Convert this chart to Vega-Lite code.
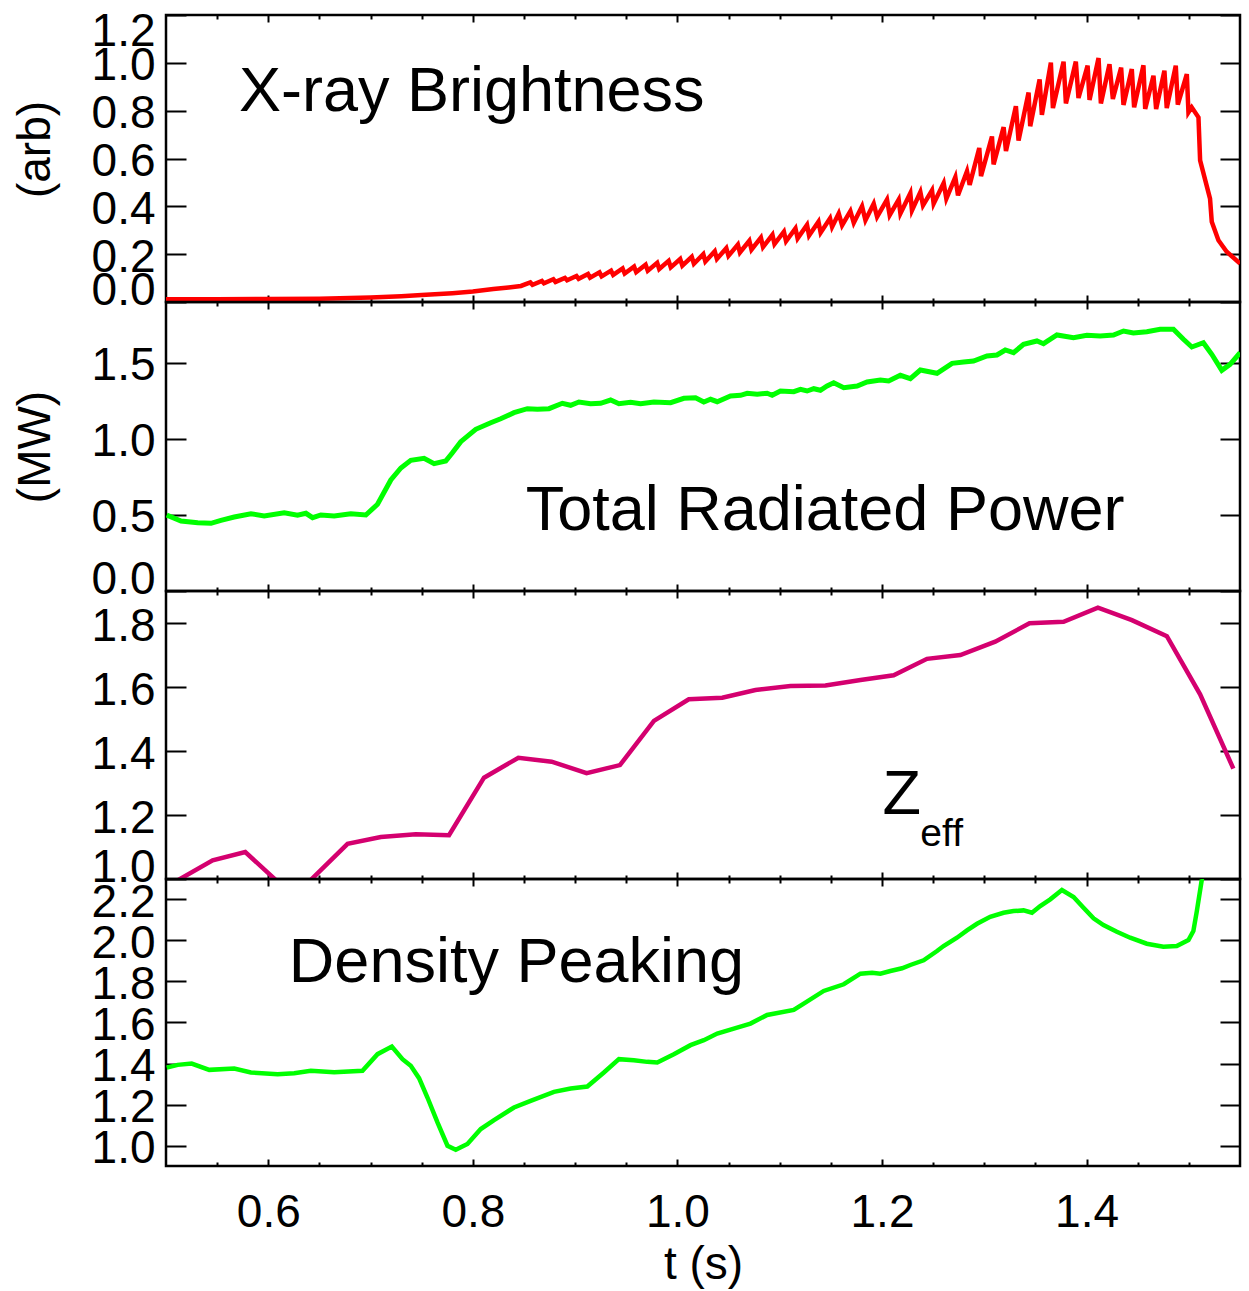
{
  "$schema": "https://vega.github.io/schema/vega-lite/v6.json",
  "background": "white",
  "padding": {"left": 10, "top": 6, "right": 9, "bottom": 0},
  "autosize": {"type": "pad"},
  "spacing": 0,
  "bounds": "flush",
  "config": {
    "view": {"stroke": "black", "strokeWidth": 2.5},
    "axis": {
      "domain": false, "grid": false, "tickColor": "black", "tickWidth": 2,
      "labelColor": "black", "titleColor": "black",
      "labelFont": "Liberation Sans", "titleFont": "Liberation Sans",
      "labelFontSize": 46, "titleFontSize": 46, "titleFontWeight": "normal",
      "labelOverlap": false, "labelBound": false
    },
    "text": {"font": "Liberation Sans"}
  },
  "datasets": {
    "xray": [
      {"t":0.5,"v":0.012},{"t":0.55,"v":0.012},{"t":0.6,"v":0.013},{"t":0.65,"v":0.014},{"t":0.7,"v":0.019},{"t":0.73,"v":0.024},{"t":0.75,"v":0.029},{"t":0.78,"v":0.037},{"t":0.8,"v":0.044},{"t":0.82,"v":0.054},{"t":0.835,"v":0.061},
      {"t":0.8470,"v":0.067},{"t":0.8562,"v":0.082},
      {"t":0.8583,"v":0.072},{"t":0.8675,"v":0.088},
      {"t":0.8695,"v":0.078},{"t":0.8787,"v":0.095},
      {"t":0.8808,"v":0.084},{"t":0.8900,"v":0.101},
      {"t":0.8921,"v":0.091},{"t":0.9013,"v":0.109},
      {"t":0.9034,"v":0.097},{"t":0.9126,"v":0.117},
      {"t":0.9146,"v":0.102},{"t":0.9238,"v":0.124},
      {"t":0.9259,"v":0.107},{"t":0.9351,"v":0.131},
      {"t":0.9372,"v":0.113},{"t":0.9464,"v":0.140},
      {"t":0.9484,"v":0.119},{"t":0.9576,"v":0.148},
      {"t":0.9597,"v":0.125},{"t":0.9689,"v":0.156},
      {"t":0.9710,"v":0.131},{"t":0.9802,"v":0.164},
      {"t":0.9822,"v":0.138},{"t":0.9914,"v":0.172},
      {"t":0.9935,"v":0.145},{"t":1.0027,"v":0.180},
      {"t":1.0048,"v":0.152},{"t":1.0140,"v":0.189},
      {"t":1.0161,"v":0.160},{"t":1.0253,"v":0.200},
      {"t":1.0273,"v":0.169},{"t":1.0365,"v":0.212},
      {"t":1.0386,"v":0.180},{"t":1.0478,"v":0.225},
      {"t":1.0499,"v":0.193},{"t":1.0591,"v":0.240},
      {"t":1.0611,"v":0.207},{"t":1.0703,"v":0.256},
      {"t":1.0724,"v":0.219},{"t":1.0816,"v":0.269},
      {"t":1.0837,"v":0.230},{"t":1.0929,"v":0.281},
      {"t":1.0949,"v":0.242},{"t":1.1041,"v":0.294},
      {"t":1.1062,"v":0.254},{"t":1.1154,"v":0.308},
      {"t":1.1175,"v":0.266},{"t":1.1267,"v":0.322},
      {"t":1.1287,"v":0.278},{"t":1.1379,"v":0.336},
      {"t":1.1400,"v":0.290},{"t":1.1492,"v":0.350},
      {"t":1.1512,"v":0.314},{"t":1.1577,"v":0.370},{"t":1.1610,"v":0.321},{"t":1.1691,"v":0.380},{"t":1.1724,"v":0.331},{"t":1.1805,"v":0.400},{"t":1.1838,"v":0.342},{"t":1.1919,"v":0.411},{"t":1.1952,"v":0.356},{"t":1.2049,"v":0.428},{"t":1.2075,"v":0.363},{"t":1.2163,"v":0.428},{"t":1.2180,"v":0.370},{"t":1.2277,"v":0.455},{"t":1.2293,"v":0.383},{"t":1.2375,"v":0.460},{"t":1.2401,"v":0.404},{"t":1.2489,"v":0.467},{"t":1.2505,"v":0.411},{"t":1.2603,"v":0.497},{"t":1.2629,"v":0.432},{"t":1.2717,"v":0.522},{"t":1.2743,"v":0.446},{"t":1.2831,"v":0.547},{"t":1.2857,"v":0.490},{"t":1.2951,"v":0.644},{"t":1.2968,"v":0.526},{"t":1.3075,"v":0.692},{"t":1.3091,"v":0.575},{"t":1.3189,"v":0.731},{"t":1.3212,"v":0.631},{"t":1.3309,"v":0.819},{"t":1.3335,"v":0.675},{"t":1.3433,"v":0.876},{"t":1.3449,"v":0.735},{"t":1.3541,"v":0.931},{"t":1.3563,"v":0.782},{"t":1.3651,"v":1.001},{"t":1.3671,"v":0.811},{"t":1.3775,"v":1.005},{"t":1.3798,"v":0.830},{"t":1.3895,"v":1.005},{"t":1.3921,"v":0.853},{"t":1.4010,"v":0.988},{"t":1.4029,"v":0.845},{"t":1.4117,"v":1.020},{"t":1.4140,"v":0.830},{"t":1.4224,"v":0.994},{"t":1.4257,"v":0.849},{"t":1.4338,"v":0.980},{"t":1.4361,"v":0.824},{"t":1.4442,"v":0.974},{"t":1.4465,"v":0.814},{"t":1.4556,"v":0.990},{"t":1.4573,"v":0.807},{"t":1.4654,"v":0.946},{"t":1.4680,"v":0.807},{"t":1.4761,"v":0.967},{"t":1.4784,"v":0.811},{"t":1.4872,"v":0.988},{"t":1.4892,"v":0.825},{"t":1.4980,"v":0.953},{"t":1.4996,"v":0.793},{"t":1.5028,"v":0.814},{"t":1.5094,"v":0.772},{"t":1.5110,"v":0.592},{"t":1.5207,"v":0.432},{"t":1.5224,"v":0.335},{"t":1.5289,"v":0.258},{"t":1.5370,"v":0.210},{"t":1.5501,"v":0.161}
    ],
    "prad": [
      {"t":0.5007,"v":0.4997},{"t":0.5147,"v":0.4602},{"t":0.5310,"v":0.4490},{"t":0.5440,"v":0.4451},{"t":0.5537,"v":0.4648},{"t":0.5667,"v":0.4865},{"t":0.5830,"v":0.5082},{"t":0.5960,"v":0.4931},{"t":0.6156,"v":0.5148},{"t":0.6286,"v":0.4977},{"t":0.6368,"v":0.5108},{"t":0.6433,"v":0.4819},{"t":0.6514,"v":0.4997},{"t":0.6644,"v":0.4931},{"t":0.6807,"v":0.5082},{"t":0.6954,"v":0.4997},{"t":0.7068,"v":0.570},{"t":0.7198,"v":0.7298},{"t":0.7296,"v":0.8087},{"t":0.7393,"v":0.8593},{"t":0.7523,"v":0.8724},{"t":0.7621,"v":0.8370},{"t":0.7735,"v":0.8547},{"t":0.7800,"v":0.9093},{"t":0.7882,"v":0.9816},{"t":0.8028,"v":1.0631},{"t":0.8175,"v":1.1065},{"t":0.8272,"v":1.1328},{"t":0.8402,"v":1.1723},{"t":0.8533,"v":1.1986},{"t":0.8631,"v":1.1946},{"t":0.8744,"v":1.1986},{"t":0.8875,"v":1.2341},{"t":0.8956,"v":1.2209},{"t":0.9037,"v":1.2426},{"t":0.9151,"v":1.2314},{"t":0.9249,"v":1.2341},{"t":0.9347,"v":1.2557},{"t":0.9428,"v":1.2314},{"t":0.9542,"v":1.2406},{"t":0.9640,"v":1.2314},{"t":0.9770,"v":1.2426},{"t":0.9933,"v":1.238},{"t":1.0063,"v":1.2669},{"t":1.0177,"v":1.2709},{"t":1.0258,"v":1.2426},{"t":1.0324,"v":1.2604},{"t":1.0389,"v":1.2446},{"t":1.0519,"v":1.282},{"t":1.0617,"v":1.2867},{"t":1.0682,"v":1.2998},{"t":1.0780,"v":1.2932},{"t":1.0877,"v":1.2998},{"t":1.0926,"v":1.2867},{"t":1.1007,"v":1.3149},{"t":1.1137,"v":1.3103},{"t":1.1203,"v":1.3261},{"t":1.1268,"v":1.3149},{"t":1.1333,"v":1.330},{"t":1.1398,"v":1.3195},{"t":1.1463,"v":1.3478},{"t":1.1528,"v":1.3695},{"t":1.1626,"v":1.3366},{"t":1.1757,"v":1.3478},{"t":1.1854,"v":1.3741},{"t":1.1984,"v":1.3872},{"t":1.2065,"v":1.3807},{"t":1.2179,"v":1.4181},{"t":1.2277,"v":1.3958},{"t":1.2375,"v":1.453},{"t":1.2538,"v":1.4313},{"t":1.2685,"v":1.497},{"t":1.2798,"v":1.5056},{"t":1.2895,"v":1.5122},{"t":1.3026,"v":1.545},{"t":1.3124,"v":1.5516},{"t":1.3205,"v":1.5845},{"t":1.3286,"v":1.5667},{"t":1.3384,"v":1.6219},{"t":1.3515,"v":1.6437},{"t":1.3579,"v":1.6259},{"t":1.3710,"v":1.6831},{"t":1.3872,"v":1.6654},{"t":1.4003,"v":1.6811},{"t":1.4133,"v":1.6765},{"t":1.4263,"v":1.6831},{"t":1.4361,"v":1.7094},{"t":1.4458,"v":1.6962},{"t":1.4589,"v":1.7048},{"t":1.4719,"v":1.7206},{"t":1.4849,"v":1.7206},{"t":1.4947,"v":1.6548},{"t":1.5029,"v":1.6042},{"t":1.5142,"v":1.6325},{"t":1.5224,"v":1.5562},{"t":1.5322,"v":1.451},{"t":1.5403,"v":1.4905},{"t":1.5501,"v":1.5667}
    ],
    "zeff": [
      {"t":0.5,"v":0.975},{"t":0.5456,"v":1.0584},{"t":0.5775,"v":1.0844},{"t":0.625,"v":0.945},{"t":0.6775,"v":1.110},{"t":0.71,"v":1.131},{"t":0.7442,"v":1.1397},{"t":0.7767,"v":1.1366},{"t":0.8109,"v":1.3166},{"t":0.8445,"v":1.379},{"t":0.877,"v":1.3666},{"t":0.9112,"v":1.331},{"t":0.9438,"v":1.356},{"t":0.977,"v":1.494},{"t":1.0111,"v":1.5616},{"t":1.0438,"v":1.5666},{"t":1.0763,"v":1.5906},{"t":1.1105,"v":1.603},{"t":1.1447,"v":1.605},{"t":1.179,"v":1.622},{"t":1.2114,"v":1.6366},{"t":1.244,"v":1.688},{"t":1.2766,"v":1.70},{"t":1.3107,"v":1.7416},{"t":1.3442,"v":1.799},{"t":1.3775,"v":1.804},{"t":1.4111,"v":1.848},{"t":1.4443,"v":1.809},{"t":1.4785,"v":1.759},{"t":1.511,"v":1.577},{"t":1.5435,"v":1.345}
    ],
    "dens": [
      {"t":0.5007,"v":1.380},{"t":0.5114,"v":1.3934},{"t":0.5251,"v":1.3998},{"t":0.5423,"v":1.369},{"t":0.5667,"v":1.3754},{"t":0.5830,"v":1.3559},{"t":0.6091,"v":1.3481},{"t":0.6253,"v":1.353},{"t":0.6416,"v":1.3642},{"t":0.6644,"v":1.3579},{"t":0.6921,"v":1.3642},{"t":0.7068,"v":1.4455},{"t":0.7208,"v":1.4826},{"t":0.7312,"v":1.4212},{"t":0.7393,"v":1.3885},{"t":0.7474,"v":1.3286},{"t":0.7556,"v":1.2341},{"t":0.7654,"v":1.1124},{"t":0.7752,"v":0.9989},{"t":0.7833,"v":0.9794},{"t":0.7947,"v":1.0072},{"t":0.8077,"v":1.0802},{"t":0.8207,"v":1.1241},{"t":0.8402,"v":1.1854},{"t":0.8565,"v":1.2181},{"t":0.8793,"v":1.2619},{"t":0.8956,"v":1.278},{"t":0.9119,"v":1.2877},{"t":0.9281,"v":1.3559},{"t":0.9428,"v":1.4212},{"t":0.9574,"v":1.4163},{"t":0.9705,"v":1.408},{"t":0.9803,"v":1.4046},{"t":0.9965,"v":1.4455},{"t":1.0128,"v":1.4894},{"t":1.0258,"v":1.5137},{"t":1.0389,"v":1.5459},{"t":1.0584,"v":1.5751},{"t":1.0714,"v":1.5946},{"t":1.0877,"v":1.637},{"t":1.1137,"v":1.6613},{"t":1.1235,"v":1.692},{"t":1.1430,"v":1.7539},{"t":1.1626,"v":1.7865},{"t":1.1789,"v":1.8381},{"t":1.1903,"v":1.843},{"t":1.1984,"v":1.8381},{"t":1.2082,"v":1.8513},{"t":1.2196,"v":1.8645},{"t":1.2277,"v":1.8805},{"t":1.2407,"v":1.9034},{"t":1.2538,"v":1.9487},{"t":1.2602,"v":1.9731},{"t":1.2733,"v":2.0135},{"t":1.2831,"v":2.0496},{"t":1.2929,"v":2.0817},{"t":1.3058,"v":2.1158},{"t":1.3188,"v":2.1353},{"t":1.3286,"v":2.1435},{"t":1.3384,"v":2.1469},{"t":1.3466,"v":2.1353},{"t":1.3547,"v":2.1679},{"t":1.3645,"v":2.2006},{"t":1.3759,"v":2.2459},{"t":1.3873,"v":2.2118},{"t":1.3970,"v":2.1596},{"t":1.4068,"v":2.108},{"t":1.4165,"v":2.0754},{"t":1.4296,"v":2.0427},{"t":1.4426,"v":2.0135},{"t":1.4589,"v":1.9843},{"t":1.4751,"v":1.9697},{"t":1.4882,"v":1.9731},{"t":1.4996,"v":2.0023},{"t":1.5044,"v":2.0461},{"t":1.5078,"v":2.1436},{"t":1.5127,"v":2.298},{"t":1.518,"v":2.5}
    ],
    "notes": [
      {"panel":1,"t":0.5713,"v":0.80,"label":"X-ray Brightness"},
      {"panel":2,"t":0.8516,"v":0.399,"label":"Total Radiated Power"},
      {"panel":3,"t":1.2004,"v":1.2022,"label":"Z"},
      {"panel":3,"t":1.2375,"v":1.103,"label":"eff"},
      {"panel":4,"t":0.6201,"v":1.7977,"label":"Density Peaking"}
    ]
  },
  "vconcat": [
    {
      "width": 1074, "height": 287,
      "layer": [
        {
          "data": {"name": "xray"},
          "mark": {"type": "line", "color": "#ff0000", "strokeWidth": 4.5, "clip": true},
          "encoding": {
            "x": {"field": "t", "type": "quantitative", "scale": {"domain": [0.5, 1.55], "nice": false, "zero": false},
                  "axis": {"orient": "bottom", "values": [0.55,0.6,0.65,0.7,0.75,0.8,0.85,0.9,0.95,1.0,1.05,1.1,1.15,1.2,1.25,1.3,1.35,1.4,1.45,1.5], "labels": false, "title": null,
                           "tickSize": {"condition": {"test": "abs(datum.value*5-round(datum.value*5))<0.001", "value": -7}, "value": -4}}},
            "y": {"field": "v", "type": "quantitative", "scale": {"domain": [0, 1.2], "nice": false, "zero": false},
                  "axis": {"orient": "left", "values": [0,0.2,0.4,0.6,0.8,1.0,1.2], "format": ".1f", "tickSize": -20, "labelPadding": 31, "labelFlush": true, "labelFlushOffset": 9, "labelOffset": 3, "title": "(arb)", "titlePadding": 32, "titleY": 134}}
          }
        },
        {
          "data": {"name": "notes"},
          "transform": [{"filter": "datum.panel == 1"}],
          "mark": {"type": "text", "align": "left", "baseline": "alphabetic", "fontSize": 63, "color": "black"},
          "encoding": {
            "x": {"field": "t", "type": "quantitative", "scale": {"domain": [0.5, 1.55], "nice": false, "zero": false},
                  "axis": {"orient": "top", "values": [0.55,0.6,0.65,0.7,0.75,0.8,0.85,0.9,0.95,1.0,1.05,1.1,1.15,1.2,1.25,1.3,1.35,1.4,1.45,1.5], "labels": false, "title": null,
                           "tickSize": {"condition": {"test": "abs(datum.value*5-round(datum.value*5))<0.001", "value": -7}, "value": -4}}},
            "y": {"field": "v", "type": "quantitative", "scale": {"domain": [0, 1.2], "nice": false, "zero": false},
                  "axis": {"orient": "right", "values": [0,0.2,0.4,0.6,0.8,1.0,1.2], "labels": false, "tickSize": -20, "title": null}},
            "text": {"field": "label"}
          }
        }
      ],
      "resolve": {"axis": {"x": "independent", "y": "independent"}}
    },
    {
      "width": 1074, "height": 289,
      "layer": [
        {
          "data": {"name": "prad"},
          "mark": {"type": "line", "color": "#00ff00", "strokeWidth": 5, "clip": true},
          "encoding": {
            "x": {"field": "t", "type": "quantitative", "scale": {"domain": [0.5, 1.55], "nice": false, "zero": false},
                  "axis": {"orient": "bottom", "values": [0.55,0.6,0.65,0.7,0.75,0.8,0.85,0.9,0.95,1.0,1.05,1.1,1.15,1.2,1.25,1.3,1.35,1.4,1.45,1.5], "labels": false, "title": null,
                           "tickSize": {"condition": {"test": "abs(datum.value*5-round(datum.value*5))<0.001", "value": -7}, "value": -4}}},
            "y": {"field": "v", "type": "quantitative", "scale": {"domain": [0, 1.9], "nice": false, "zero": false},
                  "axis": {"orient": "left", "values": [0,0.5,1.0,1.5], "format": ".1f", "tickSize": -20, "labelPadding": 31, "labelFlush": true, "labelFlushOffset": 9, "labelOffset": 3, "title": "(MW)", "titlePadding": 32}}
          }
        },
        {
          "data": {"name": "notes"},
          "transform": [{"filter": "datum.panel == 2"}],
          "mark": {"type": "text", "align": "left", "baseline": "alphabetic", "fontSize": 63, "color": "black"},
          "encoding": {
            "x": {"field": "t", "type": "quantitative", "scale": {"domain": [0.5, 1.55], "nice": false, "zero": false},
                  "axis": {"orient": "top", "values": [0.55,0.6,0.65,0.7,0.75,0.8,0.85,0.9,0.95,1.0,1.05,1.1,1.15,1.2,1.25,1.3,1.35,1.4,1.45,1.5], "labels": false, "title": null,
                           "tickSize": {"condition": {"test": "abs(datum.value*5-round(datum.value*5))<0.001", "value": -7}, "value": -4}}},
            "y": {"field": "v", "type": "quantitative", "scale": {"domain": [0, 1.9], "nice": false, "zero": false},
                  "axis": {"orient": "right", "values": [0,0.5,1.0,1.5], "labels": false, "tickSize": -20, "title": null}},
            "text": {"field": "label"}
          }
        }
      ],
      "resolve": {"axis": {"x": "independent", "y": "independent"}}
    },
    {
      "width": 1074, "height": 288,
      "layer": [
        {
          "data": {"name": "zeff"},
          "mark": {"type": "line", "color": "#d4006f", "strokeWidth": 4.5, "clip": true},
          "encoding": {
            "x": {"field": "t", "type": "quantitative", "scale": {"domain": [0.5, 1.55], "nice": false, "zero": false},
                  "axis": {"orient": "bottom", "values": [0.55,0.6,0.65,0.7,0.75,0.8,0.85,0.9,0.95,1.0,1.05,1.1,1.15,1.2,1.25,1.3,1.35,1.4,1.45,1.5], "labels": false, "title": null,
                           "tickSize": {"condition": {"test": "abs(datum.value*5-round(datum.value*5))<0.001", "value": -7}, "value": -4}}},
            "y": {"field": "v", "type": "quantitative", "scale": {"domain": [1.0, 1.9], "nice": false, "zero": false},
                  "axis": {"orient": "left", "values": [1.0,1.2,1.4,1.6,1.8], "format": ".1f", "tickSize": -20, "labelPadding": 31, "labelFlush": true, "labelFlushOffset": 9, "labelOffset": 3, "title": null}}
          }
        },
        {
          "data": {"name": "notes"},
          "transform": [{"filter": "datum.panel == 3"}],
          "mark": {"type": "text", "align": "left", "baseline": "alphabetic", "color": "black"},
          "encoding": {
            "x": {"field": "t", "type": "quantitative", "scale": {"domain": [0.5, 1.55], "nice": false, "zero": false},
                  "axis": {"orient": "top", "values": [0.55,0.6,0.65,0.7,0.75,0.8,0.85,0.9,0.95,1.0,1.05,1.1,1.15,1.2,1.25,1.3,1.35,1.4,1.45,1.5], "labels": false, "title": null,
                           "tickSize": {"condition": {"test": "abs(datum.value*5-round(datum.value*5))<0.001", "value": -7}, "value": -4}}},
            "y": {"field": "v", "type": "quantitative", "scale": {"domain": [1.0, 1.9], "nice": false, "zero": false},
                  "axis": {"orient": "right", "values": [1.0,1.2,1.4,1.6,1.8], "labels": false, "tickSize": -20, "title": null}},
            "text": {"field": "label"},
            "size": {"condition": {"test": "datum.label === 'eff'", "value": 39}, "value": 63}
          }
        }
      ],
      "resolve": {"axis": {"x": "independent", "y": "independent"}}
    },
    {
      "width": 1074, "height": 287,
      "layer": [
        {
          "data": {"name": "dens"},
          "mark": {"type": "line", "color": "#00ff00", "strokeWidth": 4.5, "clip": true},
          "encoding": {
            "x": {"field": "t", "type": "quantitative", "scale": {"domain": [0.5, 1.55], "nice": false, "zero": false},
                  "axis": {"orient": "bottom", "values": [0.55,0.6,0.65,0.7,0.75,0.8,0.85,0.9,0.95,1.0,1.05,1.1,1.15,1.2,1.25,1.3,1.35,1.4,1.45,1.5],
                           "labelExpr": "abs(datum.value*5-round(datum.value*5))<0.001 ? format(datum.value, '.1f') : ''",
                           "labelPadding": 31, "labelFlush": false, "title": "t (s)", "titlePadding": 4,
                           "tickSize": {"condition": {"test": "abs(datum.value*5-round(datum.value*5))<0.001", "value": -7}, "value": -4}}},
            "y": {"field": "v", "type": "quantitative", "scale": {"domain": [0.9, 2.3], "nice": false, "zero": false},
                  "axis": {"orient": "left", "values": [1.0,1.2,1.4,1.6,1.8,2.0,2.2], "format": ".1f", "tickSize": -20, "labelPadding": 31, "labelFlush": true, "labelFlushOffset": 9, "labelOffset": 3, "title": null}}
          }
        },
        {
          "data": {"name": "notes"},
          "transform": [{"filter": "datum.panel == 4"}],
          "mark": {"type": "text", "align": "left", "baseline": "alphabetic", "fontSize": 63, "color": "black"},
          "encoding": {
            "x": {"field": "t", "type": "quantitative", "scale": {"domain": [0.5, 1.55], "nice": false, "zero": false},
                  "axis": {"orient": "top", "values": [0.55,0.6,0.65,0.7,0.75,0.8,0.85,0.9,0.95,1.0,1.05,1.1,1.15,1.2,1.25,1.3,1.35,1.4,1.45,1.5], "labels": false, "title": null,
                           "tickSize": {"condition": {"test": "abs(datum.value*5-round(datum.value*5))<0.001", "value": -7}, "value": -4}}},
            "y": {"field": "v", "type": "quantitative", "scale": {"domain": [0.9, 2.3], "nice": false, "zero": false},
                  "axis": {"orient": "right", "values": [1.0,1.2,1.4,1.6,1.8,2.0,2.2], "labels": false, "tickSize": -20, "title": null}},
            "text": {"field": "label"}
          }
        }
      ],
      "resolve": {"axis": {"x": "independent", "y": "independent"}}
    }
  ]
}
